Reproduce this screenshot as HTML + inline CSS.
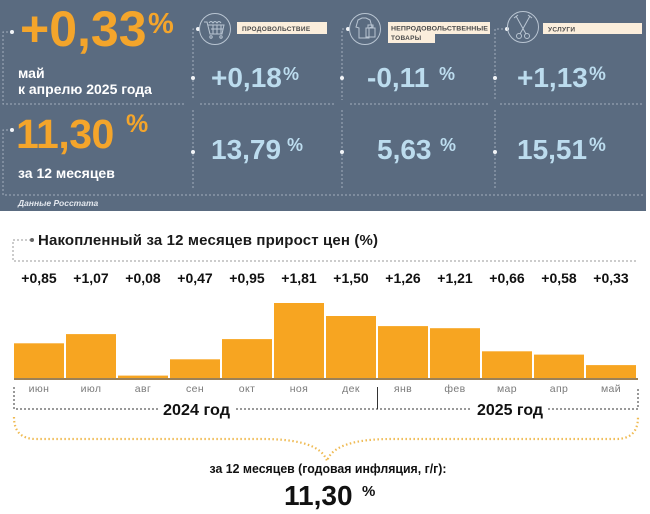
<!DOCTYPE html>
<html><head><meta charset="utf-8">
<style>
html,body{margin:0;padding:0;background:#fff;}
svg{display:block;}
text{font-family:"Liberation Sans","DejaVu Sans",sans-serif;}
</style></head>
<body>
<svg width="650" height="514" viewBox="0 0 650 514" xmlns="http://www.w3.org/2000/svg">
<rect x="0" y="0" width="650" height="514" fill="#fff"/>
<!-- top panel -->
<rect x="0" y="0" width="646" height="211" fill="#5a6b80"/>
<g stroke="#a2aebc" stroke-width="1" stroke-dasharray="2 2" fill="none">
  <path d="M12,32 H3 V104 H185"/>
  <path d="M12,130 H3 V195 H643"/>
  <path d="M198,29 H193 V100"/>
  <path d="M193,110 V190"/>
  <path d="M348,29 H342 V100"/>
  <path d="M342,110 V190"/>
  <path d="M507,29 H495 V100"/>
  <path d="M495,110 V190"/>
  <path d="M200,104 H335"/>
  <path d="M350,104 H490"/>
  <path d="M500,104 H643"/>
</g>
<g fill="#f2f4f7">
  <circle cx="12" cy="32" r="2"/>
  <circle cx="12" cy="130" r="2"/>
  <circle cx="198" cy="29" r="2"/>
  <circle cx="193" cy="78" r="2"/>
  <circle cx="193" cy="152" r="2"/>
  <circle cx="348" cy="29" r="2"/>
  <circle cx="342" cy="78" r="2"/>
  <circle cx="342" cy="152" r="2"/>
  <circle cx="507" cy="29" r="2"/>
  <circle cx="495" cy="78" r="2"/>
  <circle cx="495" cy="152" r="2"/>
</g>
<!-- icons -->
<g stroke="#b9c5d2" stroke-width="1" fill="none">
  <circle cx="215" cy="29" r="15.5"/>
  <circle cx="365" cy="29" r="15.5"/>
  <circle cx="523" cy="27" r="15.5"/>
  <path d="M204,22 H207 L210,34 H222 L224,25 H208"/>
  <path d="M211,29 H223 M213,25 V34 M217,25 V34 M221,25 V34"/>
  <circle cx="211" cy="37" r="1.2"/><circle cx="221" cy="37" r="1.2"/>
  <path d="M209,23 q2,-3 4,0 q2,-3 4,0 q2,-3 4,0"/>
  <path d="M358,20 L362,18 H366 L370,20 L372,27 L369,28 V38 H359 V28 L356,27 Z"/>
  <path d="M366,28 H375 V37 H366 Z M368,28 V25 H373 V28"/>
  <path d="M516,16 L526,34 M530,16 L520,34"/>
  <circle cx="519" cy="36" r="2.5"/><circle cx="527" cy="36" r="2.5"/>
  <path d="M514,18 L518,15 M528,15 L532,18"/>
</g>
<!-- labels -->
<rect x="237" y="22" width="90" height="12" fill="#fbeedc"/>
<text x="242" y="31" font-size="6.5" font-weight="bold" fill="#4a4a4a" letter-spacing="0.3">ПРОДОВОЛЬСТВИЕ</text>
<rect x="388" y="22" width="102" height="12" fill="#fbeedc"/>
<rect x="388" y="33" width="47" height="10" fill="#fbeedc"/>
<text x="391" y="30.5" font-size="6.5" font-weight="bold" fill="#4a4a4a" letter-spacing="0.1" textLength="97" lengthAdjust="spacingAndGlyphs">НЕПРОДОВОЛЬСТВЕННЫЕ</text>
<text x="391" y="40" font-size="6.5" font-weight="bold" fill="#4a4a4a" letter-spacing="0.3">ТОВАРЫ</text>
<rect x="543" y="23" width="99" height="11" fill="#fbeedc"/>
<text x="548" y="31.5" font-size="6.5" font-weight="bold" fill="#4a4a4a" letter-spacing="0.3">УСЛУГИ</text>

<!-- big orange -->
<text x="20" y="46" font-size="50" font-weight="bold" fill="#f4a52b">+0,33</text>
<text x="148" y="33" font-size="29" font-weight="bold" fill="#f4a52b">%</text>
<text x="18" y="78" font-size="14" font-weight="bold" fill="#ffffff">май</text>
<text x="18" y="94" font-size="14" font-weight="bold" fill="#ffffff">к апрелю 2025 года</text>
<text x="16" y="148" font-size="41" font-weight="bold" fill="#f4a52b" letter-spacing="-0.5">11,30</text>
<text x="126" y="132" font-size="25" font-weight="bold" fill="#f4a52b">%</text>
<text x="18" y="178" font-size="14" font-weight="bold" fill="#ffffff">за 12 месяцев</text>
<text x="18" y="206" font-size="8.5" font-weight="bold" font-style="italic" fill="#e4e8ee">Данные Росстата</text>

<!-- light blue values -->
<g font-weight="bold" fill="#bcdcee">
  <text x="211" y="87" font-size="28">+0,18</text>
  <text x="283" y="80" font-size="18">%</text>
  <text x="211" y="159" font-size="28">13,79</text>
  <text x="287" y="151" font-size="18">%</text>
  <text x="367" y="87" font-size="28">-0,11</text>
  <text x="439" y="80" font-size="18">%</text>
  <text x="377" y="159" font-size="28">5,63</text>
  <text x="440" y="151" font-size="18">%</text>
  <text x="517" y="87" font-size="28">+1,13</text>
  <text x="589" y="80" font-size="19">%</text>
  <text x="517" y="159" font-size="28">15,51</text>
  <text x="589" y="151" font-size="19">%</text>
</g>

<!-- chart title -->
<g stroke="#9a9a9a" stroke-width="1" stroke-dasharray="2 2" fill="none">
  <path d="M31,240 H13 V261 H638"/>
</g>
<circle cx="32" cy="240" r="2" fill="#666"/>
<text x="38" y="245" font-size="15" font-weight="bold" fill="#1a1a1a" textLength="340" lengthAdjust="spacing">Накопленный за 12 месяцев прирост цен (%)</text>

<!-- value labels -->
<g font-size="14" font-weight="bold" fill="#111" text-anchor="middle">
  <text x="39" y="283">+0,85</text>
  <text x="91" y="283">+1,07</text>
  <text x="143" y="283">+0,08</text>
  <text x="195" y="283">+0,47</text>
  <text x="247" y="283">+0,95</text>
  <text x="299" y="283">+1,81</text>
  <text x="351" y="283">+1,50</text>
  <text x="403" y="283">+1,26</text>
  <text x="455" y="283">+1,21</text>
  <text x="507" y="283">+0,66</text>
  <text x="559" y="283">+0,58</text>
  <text x="611" y="283">+0,33</text>
</g>

<!-- bars -->
<g fill="#f7a521">
  <rect x="14" y="343.3" width="50" height="35.7"/>
  <rect x="66" y="334.1" width="50" height="44.9"/>
  <rect x="118" y="375.6" width="50" height="3.4"/>
  <rect x="170" y="359.3" width="50" height="19.7"/>
  <rect x="222" y="339.1" width="50" height="39.9"/>
  <rect x="274" y="303" width="50" height="76"/>
  <rect x="326" y="316" width="50" height="63"/>
  <rect x="378" y="326.1" width="50" height="52.9"/>
  <rect x="430" y="328.2" width="50" height="50.8"/>
  <rect x="482" y="351.3" width="50" height="27.7"/>
  <rect x="534" y="354.6" width="50" height="24.4"/>
  <rect x="586" y="365.1" width="50" height="13.9"/>
</g>
<rect x="14" y="378" width="624" height="2" fill="#9c8158"/>

<!-- month labels -->
<g font-size="10.5" fill="#7a7a7a" text-anchor="middle" letter-spacing="0.4">
  <text x="39" y="392">июн</text>
  <text x="91" y="392">июл</text>
  <text x="143" y="392">авг</text>
  <text x="195" y="392">сен</text>
  <text x="247" y="392">окт</text>
  <text x="299" y="392">ноя</text>
  <text x="351" y="392">дек</text>
  <text x="403" y="392">янв</text>
  <text x="455" y="392">фев</text>
  <text x="507" y="392">мар</text>
  <text x="559" y="392">апр</text>
  <text x="611" y="392">май</text>
</g>

<!-- year brackets -->
<g stroke="#333" stroke-width="1" stroke-dasharray="2 2" fill="none">
  <path d="M14,387 V409 H158"/>
  <path d="M236,409 H470"/>
  <path d="M548,409 H638 V387"/>
</g>
<path d="M377.5,387 V409" stroke="#333" stroke-width="1"/>
<text x="163" y="415" font-size="16" font-weight="bold" fill="#111" textLength="67" lengthAdjust="spacingAndGlyphs">2024 год</text>
<text x="477" y="415" font-size="16" font-weight="bold" fill="#111" textLength="66" lengthAdjust="spacingAndGlyphs">2025 год</text>

<!-- brace -->
<path d="M14,417 Q14,439 36,439 L262,439 C300,439 322,446 327,461 C332,446 354,439 392,439 L616,439 Q638,439 638,417" stroke="#efba52" stroke-width="2.2" stroke-dasharray="1.5 2.5" fill="none"/>

<!-- bottom annual -->
<text x="328" y="473" font-size="12.5" font-weight="bold" fill="#111" text-anchor="middle" textLength="237" lengthAdjust="spacingAndGlyphs">за 12 месяцев (годовая инфляция, г/г):</text>
<text x="284" y="505" font-size="28" font-weight="bold" fill="#111">11,30</text>
<text x="362" y="496" font-size="15" font-weight="bold" fill="#111">%</text>
</svg>
</body></html>
